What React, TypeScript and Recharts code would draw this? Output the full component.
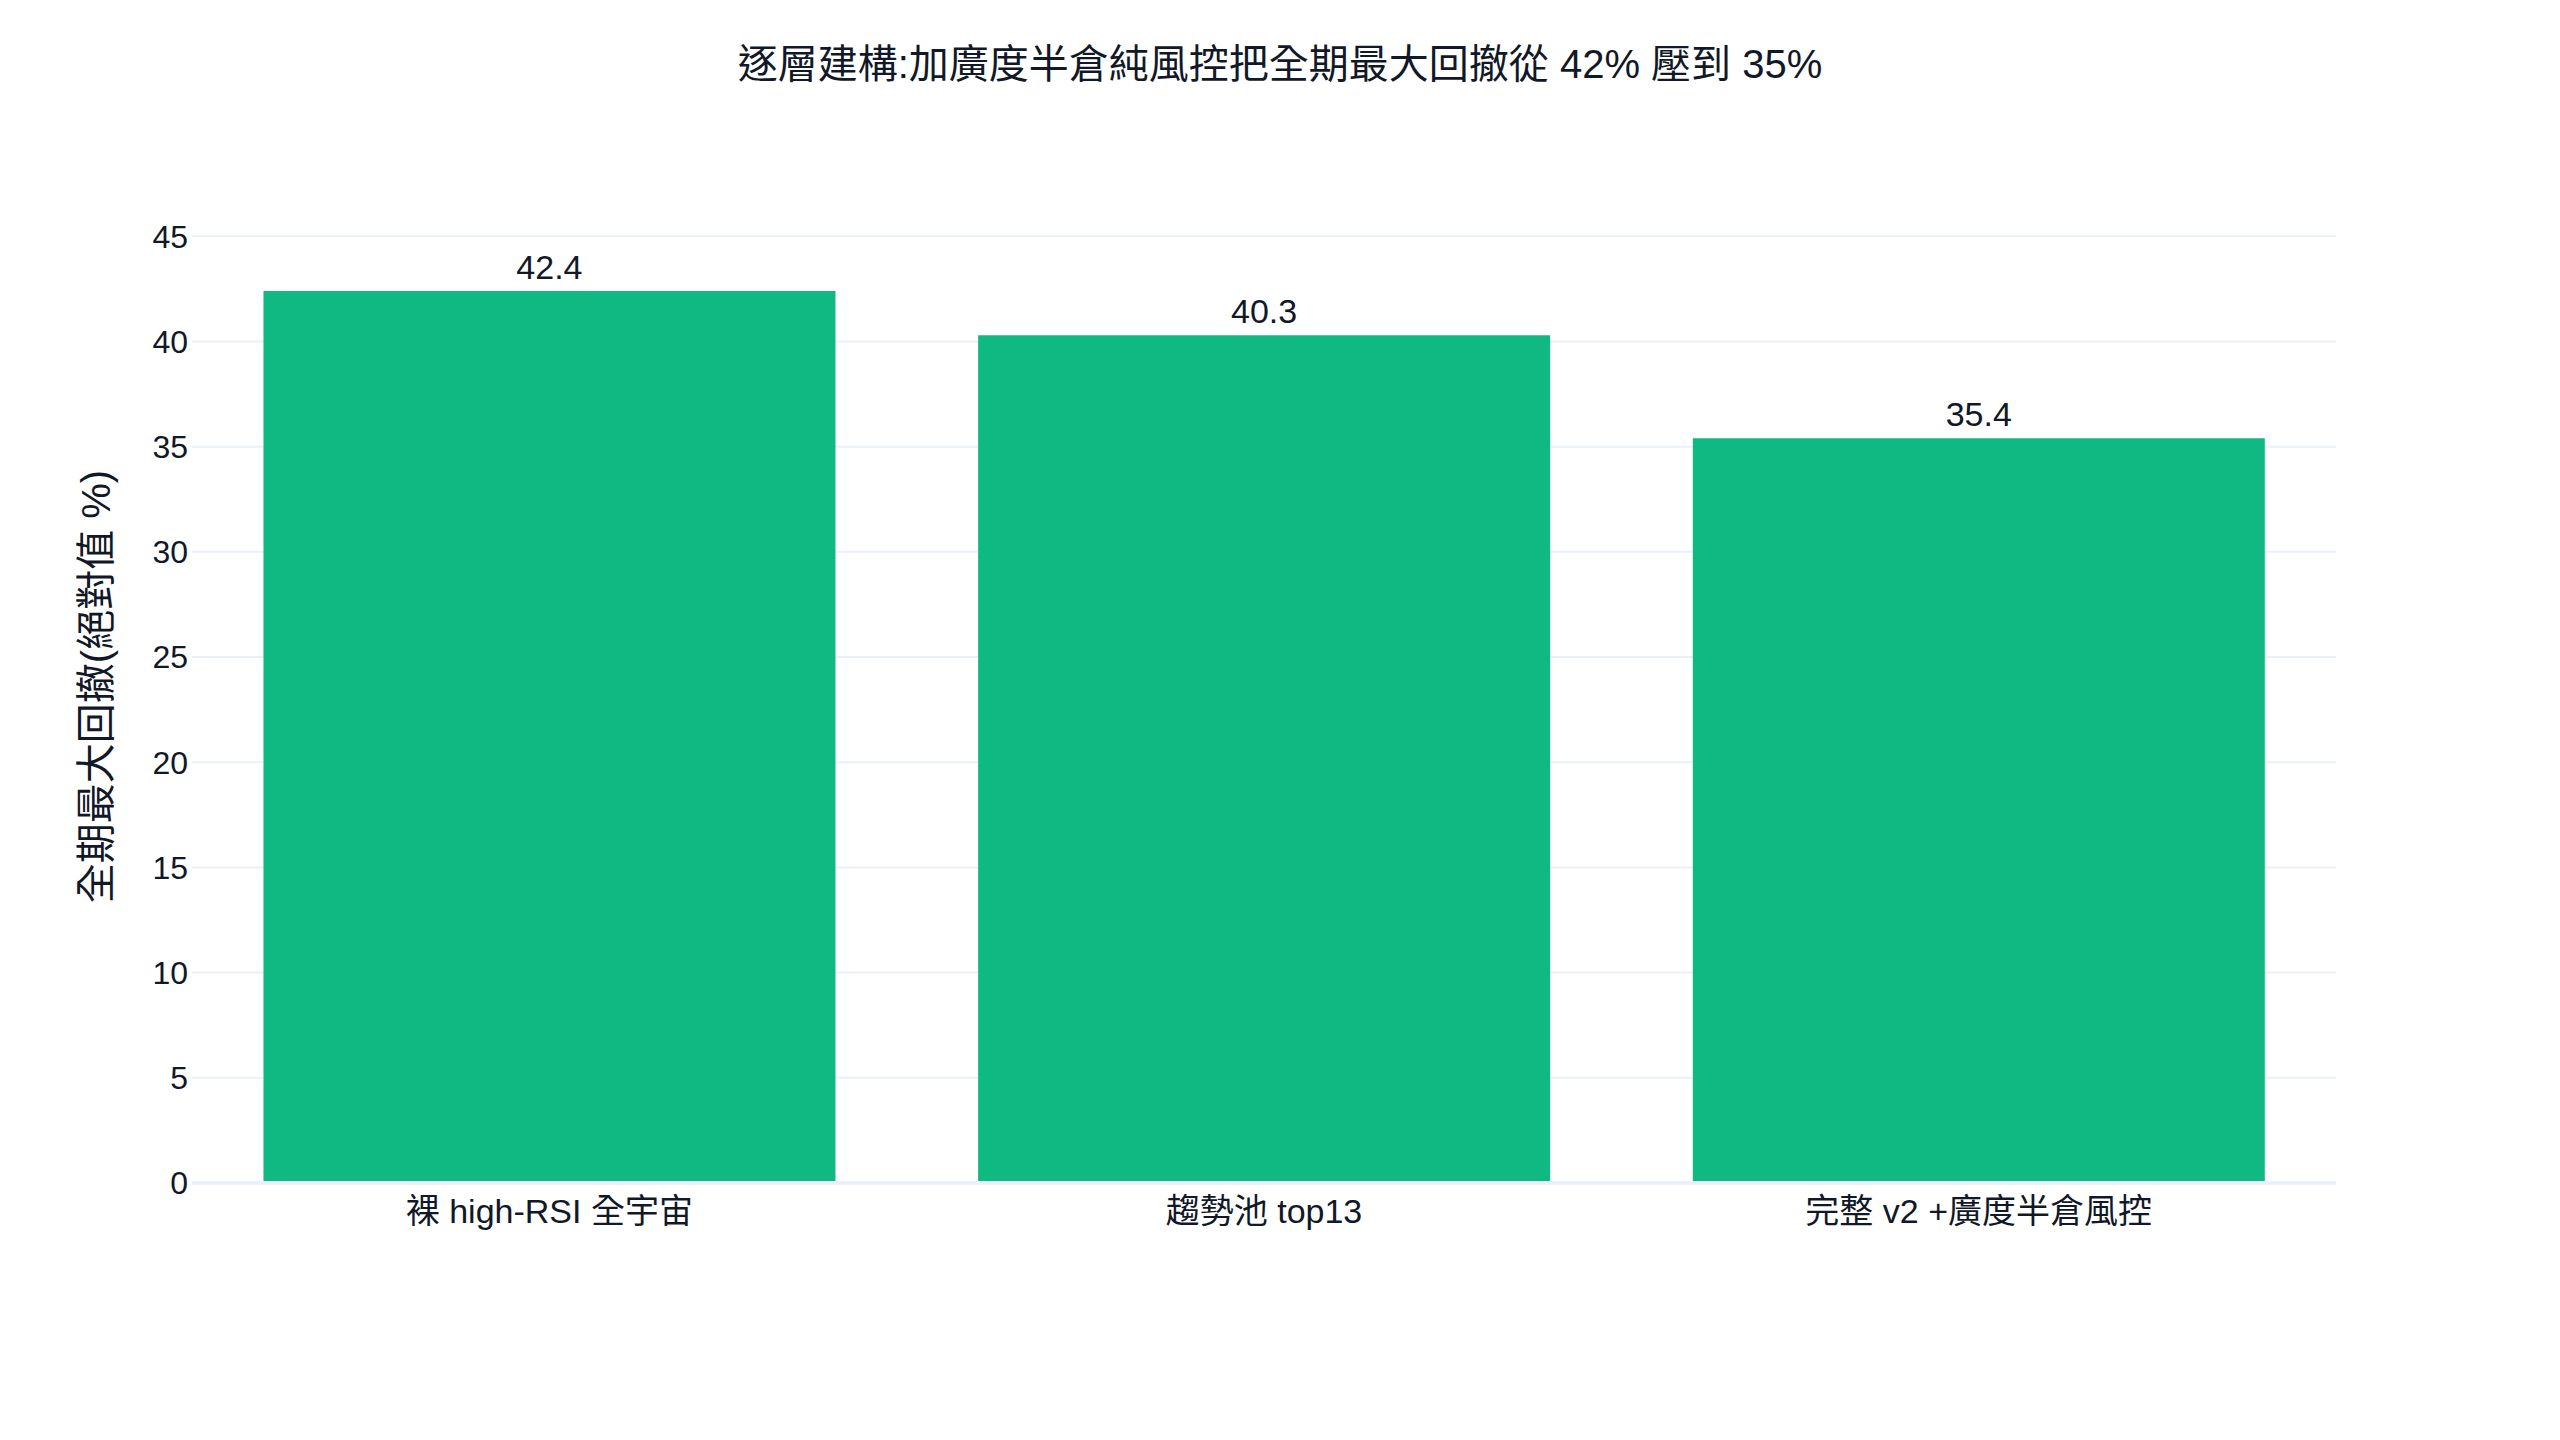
import React from "react"
import { BarChart, Bar, XAxis, YAxis, CartesianGrid, LabelList } from "recharts"

const categories = ["裸 high-RSI 全宇宙", "趨勢池 top13", "完整 v2 +廣度半倉風控"]
const drawdown = [42.4, 40.3, 35.4]
const yTicks = [0, 5, 10, 15, 20, 25, 30, 35, 40, 45]

const title = "逐層建構:加廣度半倉純風控把全期最大回撤從 42% 壓到 35%"
const yTitle = "全期最大回撤(絕對值 %)"

const data = categories.map((name, i) => ({ name, value: drawdown[i] }))

const FONT = '"Liberation Sans", Arial, "Noto Sans CJK TC", sans-serif'
const TEXT = "#111827"
const GRID = "#EBF0F8"

export default function App() {
    return (
        <div style={{ position: "absolute", left: 0, top: 0, width: 2560, height: 1440, background: "#fff", fontFamily: FONT }}>
            <div
                style={{
                    position: "absolute",
                    top: 44,
                    left: 0,
                    width: 2560,
                    textAlign: "center",
                    fontSize: 40,
                    lineHeight: "40px",
                    color: TEXT,
                }}
            >
                {title}
            </div>
            <BarChart
                width={2560}
                height={1440}
                data={data}
                margin={{ top: 190, right: 224, left: 0, bottom: 0 }}
                barCategoryGap="10%"
            >
                <CartesianGrid horizontal vertical={false} stroke={GRID} strokeWidth={2} syncWithTicks />
                <XAxis
                    dataKey="name"
                    height={257}
                    tickLine={false}
                    tickSize={0}
                    tickMargin={16}
                    axisLine={{ stroke: GRID, strokeWidth: 4 }}
                    tick={{ fill: TEXT, fontSize: 34, fontFamily: FONT }}
                />
                <YAxis
                    width={192}
                    domain={[0, 47.2]}
                    ticks={yTicks}
                    tickLine={false}
                    tickSize={0}
                    tickMargin={4}
                    axisLine={false}
                    tick={{ fill: TEXT, fontSize: 32, fontFamily: FONT }}
                    label={{
                        value: yTitle,
                        angle: -90,
                        position: "center",
                        fill: TEXT,
                        fontSize: 40,
                        fontFamily: FONT,
                    }}
                />
                <Bar dataKey="value" fill="#10b981" isAnimationActive={false}>
                    <LabelList dataKey="value" position="top" offset={12} fill={TEXT} fontSize={34} fontFamily={FONT} />
                </Bar>
            </BarChart>
        </div>
    )
}
